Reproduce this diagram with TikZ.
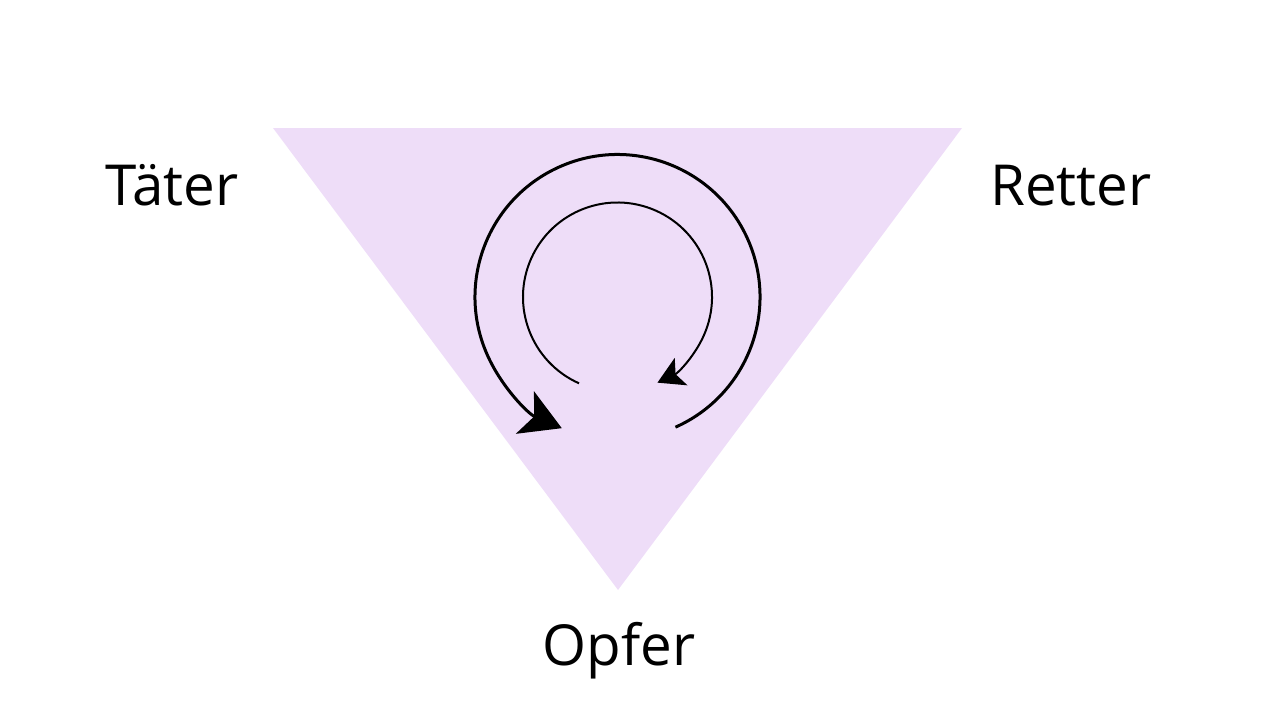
\documentclass[tikz,border=0pt]{standalone}
\usepackage{fontspec}
\setmainfont{Open Sans}
\usetikzlibrary{arrows.meta}
\definecolor{lavender}{HTML}{EEDDF8}
\begin{document}
\begin{tikzpicture}[x=1pt,y=1pt,
  label/.style={anchor=base,inner sep=0pt,font=\fontsize{56.5}{68}\selectfont}]
          \useasboundingbox (0,0) rectangle (1280,-720);
          %triangle
          \fill[lavender] (273,-128) -- (962,-128) -- (618,-590) -- cycle;
          \node[label] (taeter) at (172,-205) {Täter};
          \node[label] (retter) at (1071,-205) {Retter};
          \node[label] (opfer) at (619,-665) {Opfer};
          %circle arrows
          \coordinate (c) at (617.5,-297);
          \draw[line width=3pt,-{Stealth[length=40pt,width=46pt,inset=10pt]}]
            ([shift={(-66:142.5)}]c) arc (-66:247:142.5);
          \draw[line width=2pt,-{Stealth[length=26pt,width=30pt,inset=6pt]}]
            ([shift={(246:94.5)}]c) arc (246:-65:94.5);
          \end{tikzpicture}
\end{document}
